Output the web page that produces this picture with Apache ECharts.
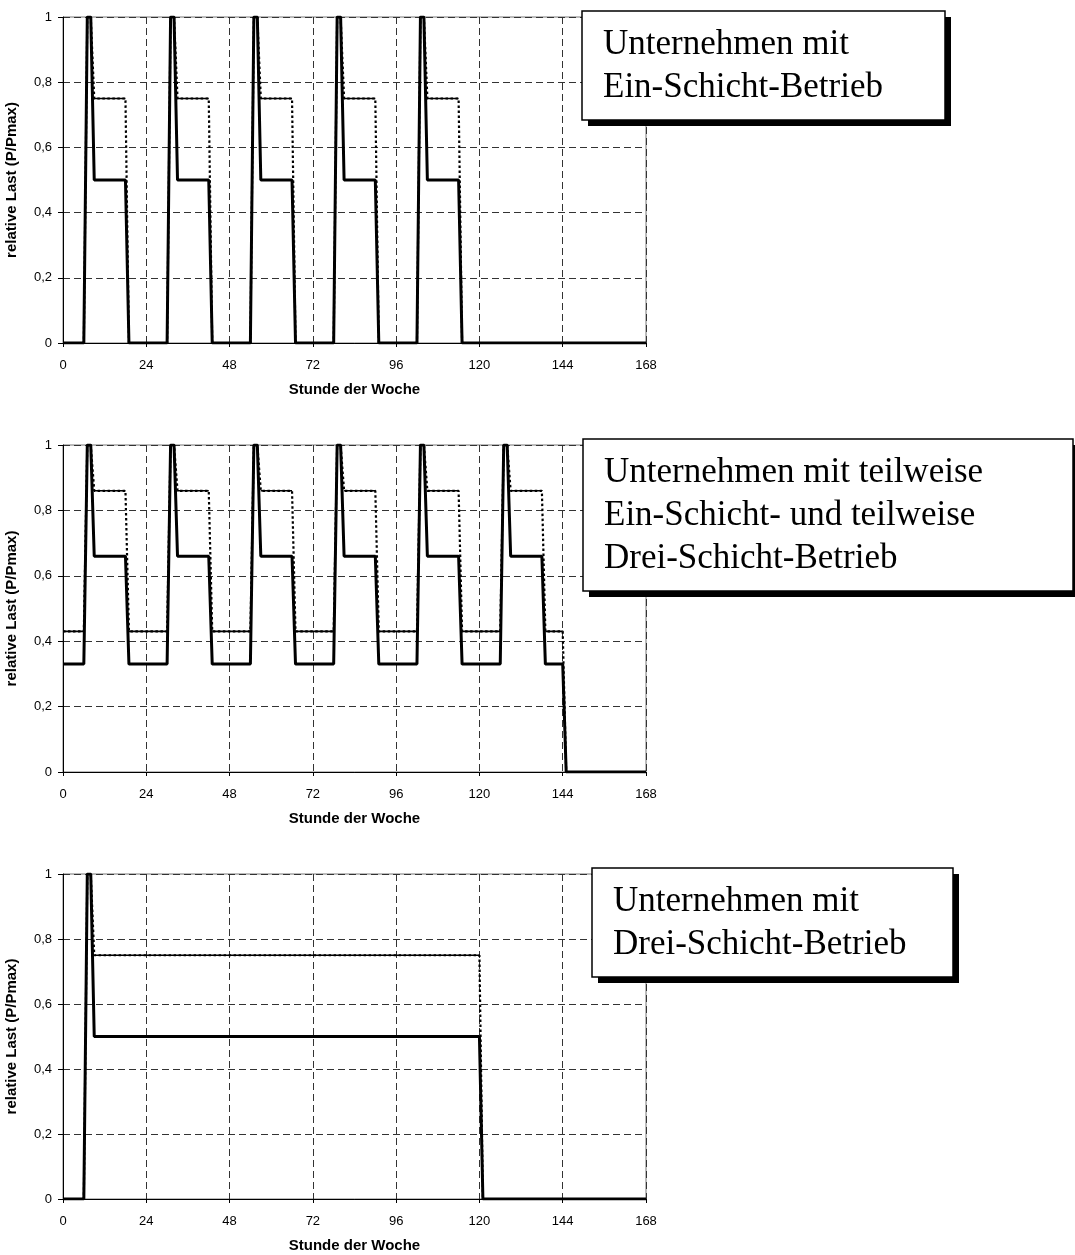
<!DOCTYPE html>
<html>
<head>
<meta charset="utf-8">
<title>Lastprofile</title>
<script src="https://cdn.jsdelivr.net/npm/echarts@6/dist/echarts.min.js"></script>
<style>
  html, body { margin: 0; padding: 0; background: #ffffff; }
  #chart { width: 1075px; height: 1255px; }
</style>
</head>
<body>
<div id="chart"></div>
<script>
// x-Achse
const xTicks = [0, 24, 48, 72, 96, 120, 144, 168];

// Ein-Schicht-Betrieb
const hours1 = [0, 6, 7, 8, 9, 18, 19, 30, 31, 32, 33, 42, 43, 54, 55, 56, 57, 66, 67,
    78, 79, 80, 81, 90, 91, 102, 103, 104, 105, 114, 115, 168];
const base1 = [0, 0, 1, 1, 0.5, 0.5, 0, 0, 1, 1, 0.5, 0.5, 0, 0, 1, 1, 0.5, 0.5, 0,
    0, 1, 1, 0.5, 0.5, 0, 0, 1, 1, 0.5, 0.5, 0, 0];
const upper1 = [0, 0, 1, 1, 0.75, 0.75, 0, 0, 1, 1, 0.75, 0.75, 0, 0, 1, 1, 0.75, 0.75, 0,
    0, 1, 1, 0.75, 0.75, 0, 0, 1, 1, 0.75, 0.75, 0, 0];

// teilweise Ein-Schicht- und teilweise Drei-Schicht-Betrieb
const hours2 = [0, 6, 7, 8, 9, 18, 19, 30, 31, 32, 33, 42, 43, 54, 55, 56, 57, 66, 67,
    78, 79, 80, 81, 90, 91, 102, 103, 104, 105, 114, 115, 126, 127, 128, 129, 138, 139,
    144, 145, 168];
const base2 = [0.33, 0.33, 1, 1, 0.66, 0.66, 0.33, 0.33, 1, 1, 0.66, 0.66, 0.33,
    0.33, 1, 1, 0.66, 0.66, 0.33, 0.33, 1, 1, 0.66, 0.66, 0.33, 0.33, 1, 1, 0.66, 0.66, 0.33,
    0.33, 1, 1, 0.66, 0.66, 0.33, 0.33, 0, 0];
const upper2 = [0.43, 0.43, 1, 1, 0.86, 0.86, 0.43, 0.43, 1, 1, 0.86, 0.86, 0.43,
    0.43, 1, 1, 0.86, 0.86, 0.43, 0.43, 1, 1, 0.86, 0.86, 0.43, 0.43, 1, 1, 0.86, 0.86, 0.43,
    0.43, 1, 1, 0.86, 0.86, 0.43, 0.43, 0, 0];

// Drei-Schicht-Betrieb
const hours3 = [0, 6, 7, 8, 9, 120, 121, 168];
const base3 = [0, 0, 1, 1, 0.5, 0.5, 0, 0];
const upper3 = [0, 0, 1, 1, 0.75, 0.75, 0, 0];

const boxTexts = [
    'Unternehmen mit\nEin-Schicht-Betrieb',
    'Unternehmen mit teilweise\nEin-Schicht- und teilweise\nDrei-Schicht-Betrieb',
    'Unternehmen mit\nDrei-Schicht-Betrieb'
];

const profiles = [
    { hours: hours1, base: base1, upper: upper1 },
    { hours: hours2, base: base2, upper: upper2 },
    { hours: hours3, base: base3, upper: upper3 }
];

// Plotbereiche und Textkaesten (Pixel)
const plots = [
    { top: 17, height: 326 },
    { top: 445, height: 327 },
    { top: 874, height: 325 }
];
const boxes = [
    { x: 582, y: 11, w: 363, h: 109 },
    { x: 583, y: 439, w: 490, h: 152 },
    { x: 592, y: 868, w: 361, h: 109 }
];

function pairs(xs, ys) {
    return xs.map((x, i) => [x, ys[i]]);
}

// nur die waagerechten Stuecke (durchgezogen, duenn)
function flatParts(xs, ys) {
    let out = [];
    for (let i = 0; i < xs.length - 1; i++) {
        if (ys[i] === ys[i + 1] && ys[i] > 0) {
            out.push([xs[i], ys[i]], [xs[i + 1], ys[i + 1]], '-');
        }
    }
    return out;
}

const grids = [], xAxes = [], yAxes = [], series = [], graphics = [];
const gridLine = { show: true, lineStyle: { color: '#333', width: 1, type: [7, 4] } };
const labelFont = { color: '#000', fontFamily: 'Liberation Sans', fontSize: 13 };
const nameFont = { color: '#000', fontFamily: 'Liberation Sans', fontSize: 15, fontWeight: 'bold' };

plots.forEach((p, i) => {
    grids.push({
        left: 63, width: 583, top: p.top, height: p.height,
        containLabel: false, outerBoundsMode: 'none',
        show: true, borderColor: '#777', borderWidth: 1, backgroundColor: 'transparent'
    });
    xAxes.push({
        gridIndex: i, type: 'value', min: 0, max: 168, interval: 24,
        name: 'Stunde der Woche', nameLocation: 'middle', nameGap: 39, nameTextStyle: nameFont,
        axisLine: { show: true, onZero: false, lineStyle: { color: '#000', width: 1 } },
        axisTick: { show: true, length: 4, lineStyle: { color: '#000' } },
        axisLabel: Object.assign({ margin: 16 }, labelFont),
        splitLine: gridLine
    });
    yAxes.push({
        gridIndex: i, type: 'value', min: 0, max: 1, interval: 0.2,
        name: 'relative Last (P/Pmax)', nameLocation: 'middle', nameGap: 44, nameTextStyle: nameFont,
        axisLine: { show: true, lineStyle: { color: '#000', width: 1 } },
        axisTick: { show: true, length: 5, lineStyle: { color: '#000' } },
        axisLabel: Object.assign({
            margin: 11,
            formatter: v => String(+v.toFixed(1)).replace('.', ',')
        }, labelFont),
        splitLine: gridLine
    });

    const d = profiles[i];
    // obere Kurve: gepunktet
    series.push({
        type: 'line', xAxisIndex: i, yAxisIndex: i, data: pairs(d.hours, d.upper),
        showSymbol: false, symbol: 'none', z: 2,
        lineStyle: { color: '#000', width: 2.2, type: [2.5, 2.5] }
    });
    // obere Kurve: waagerechte Abschnitte durchgezogen
    series.push({
        type: 'line', xAxisIndex: i, yAxisIndex: i, data: flatParts(d.hours, d.upper),
        showSymbol: false, symbol: 'none', connectNulls: false, z: 3,
        lineStyle: { color: '#000', width: 1.6 }
    });
    // untere Kurve: dick
    series.push({
        type: 'line', xAxisIndex: i, yAxisIndex: i, data: pairs(d.hours, d.base),
        showSymbol: false, symbol: 'none', z: 4,
        lineStyle: { color: '#000', width: 3 }
    });

    // Textkasten mit Schatten
    const b = boxes[i];
    graphics.push({
        type: 'rect', z: 100, shape: { x: b.x + 6, y: b.y + 6, width: b.w, height: b.h },
        style: { fill: '#000' }
    });
    graphics.push({
        type: 'rect', z: 101, shape: { x: b.x, y: b.y, width: b.w, height: b.h },
        style: { fill: '#fff', stroke: '#000', lineWidth: 1.5 }
    });
    graphics.push({
        type: 'text', z: 102, x: b.x + 21, y: b.y + 12,
        style: {
            text: boxTexts[i], fill: '#000', font: '35px "Liberation Serif"',
            lineHeight: 43, verticalAlign: 'top'
        }
    });
});

const myChart = echarts.init(document.getElementById('chart'), null, { renderer: 'canvas' });
myChart.setOption({
    animation: false,
    backgroundColor: '#fff',
    grid: grids,
    xAxis: xAxes,
    yAxis: yAxes,
    series: series,
    graphic: graphics
});
</script>
</body>
</html>
